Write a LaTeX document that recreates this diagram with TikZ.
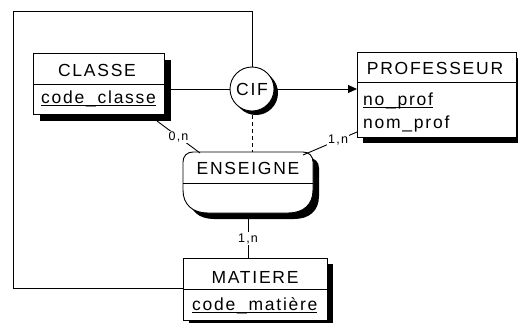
\documentclass[tikz,border=0pt]{standalone}
\usepackage{fontspec}
\setmainfont{Liberation Sans}[LetterSpace=10]
\newfontfamily\lblfont{Liberation Sans}[LetterSpace=10]
\newcommand\myuline[1]{\setbox0\hbox{#1}\rlap{\rule[-3pt]{\wd0}{1pt}}\box0}
\usetikzlibrary{arrows.meta}
\begin{document}
\begin{tikzpicture}[x=1pt,y=-1pt,
  box/.style={draw, fill=white, line width=1pt, rectangle, inner sep=0pt, outer sep=0pt, anchor=north west},
  shad/.style={fill=black},
  txt/.style={font=\fontsize{17.5}{20}\selectfont, inner sep=0pt},
  lbl/.style={font=\lblfont\fontsize{12.5}{13}\selectfont, fill=white, inner sep=1pt},
  conn/.style={line width=0.9pt},
  divider/.style={line width=1pt}]
\useasboundingbox[fill=white] (0,0) rectangle (518,322);

% ---------- CLASSE ----------
\fill[shad] (40,60) rectangle (171,121);
\node[box, minimum width=131pt, minimum height=61pt] (classe) at (33,53) {};
\draw[divider] (33,84) -- (164,84);
\node[txt, anchor=base] (classeT) at (97,76) {CLASSE};
\node[txt, anchor=base west] (classeA) at (41,103) {\myuline{code\_classe}};

% ---------- PROFESSEUR ----------
\fill[shad] (363,58) rectangle (524,143);
\node[box, minimum width=159pt, minimum height=85pt] (prof) at (357,52) {};
\draw[divider] (357,82) -- (516,82);
\node[txt, anchor=base] (profT) at (435,74) {PROFESSEUR};
\node[txt, anchor=base west] (profA) at (363,105) {\myuline{no\_prof}};
\node[txt, anchor=base west] (profB) at (363,128) {nom\_prof};

% ---------- MATIERE ----------
\fill[shad] (189,264) rectangle (333,328);
\node[box, minimum width=144pt, minimum height=62pt] (matiere) at (183,258) {};
\draw[divider] (183,289) -- (327,289);
\node[txt, anchor=base] (matT) at (255,283) {MATIERE};
\node[txt, anchor=base west] (matA) at (192,310) {\myuline{code\_matière}};

% ---------- CIF ----------
\fill[shad] (256,93) circle[radius=22pt];
\node[draw, circle, fill=white, minimum size=44pt, inner sep=0pt, line width=0.9pt, font=\fontsize{17.5}{20}\selectfont] (cif) at (252,89) {CIF};

% ---------- ENSEIGNE ----------
\fill[shad, shift={(6,6)}] (193,152) -- (303,152) .. controls (309,152) and (313,156) .. (313,162) -- (313,190) .. controls (313,205) and (303,213) .. (288,213) -- (208,213) .. controls (193,213) and (183,205) .. (183,190) -- (183,162) .. controls (183,156) and (187,152) .. (193,152) -- cycle;
\draw[fill=white, line width=0.9pt] (193,152) -- (303,152) .. controls (309,152) and (313,156) .. (313,162) -- (313,190) .. controls (313,205) and (303,213) .. (288,213) -- (208,213) .. controls (193,213) and (183,205) .. (183,190) -- (183,162) .. controls (183,156) and (187,152) .. (193,152) -- cycle;
\draw[divider] (183,183) -- (313,183);
\node[txt, anchor=base] (ensT) at (248,174) {ENSEIGNE};
\coordinate (ensTop) at (252,152);
\coordinate (ensTL) at (200,153);
\coordinate (ensTR) at (303,155);
\coordinate (ensBot) at (248,219);

% ---------- connectors ----------
\coordinate (c1) at (252,11);
\coordinate (c2) at (13,11);
\coordinate (c3) at (13,288);
\coordinate (classeC) at (157,121);
\coordinate (profC) at (357,132);
\draw[conn] (cif.north) -- (c1) -- (c2) -- (c3) -- (matiere.west |- c3);
\draw[conn] (classe.east |- cif) -- (cif.west);
\draw[conn, -{Triangle[length=9pt,width=8pt]}] (cif.east) -- (prof.west |- cif);
\draw[conn, dash pattern=on 4pt off 3pt] (cif.south) ++(0,4) -- (ensTop);
\draw[conn] (classeC) -- node[lbl] {0,n} (ensTL);
\draw[conn] (profC) -- node[lbl, pos=0.35] {1,n} (ensTR);
\draw[conn] (ensBot) -- node[lbl] {1,n} (matiere.north -| ensBot);
\end{tikzpicture}
\end{document}
